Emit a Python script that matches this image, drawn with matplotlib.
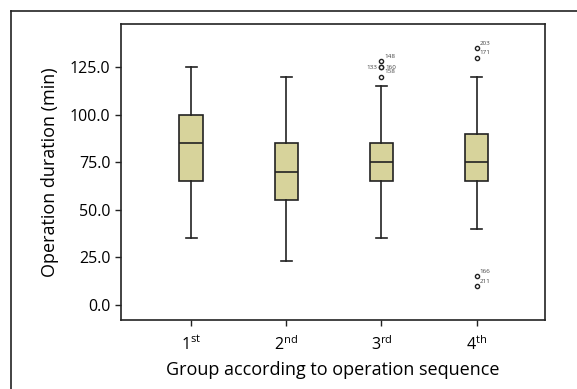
import matplotlib
matplotlib.use("Agg")
import matplotlib.pyplot as plt
from matplotlib.lines import Line2D

plt.rcParams['font.family'] = ['Open Sans', 'DejaVu Sans']
plt.rcParams['mathtext.fontset'] = 'custom'
plt.rcParams['mathtext.rm'] = 'Open Sans'

# box statistics per group (min)
groups = ['1$^{\\mathrm{st}}$', '2$^{\\mathrm{nd}}$', '3$^{\\mathrm{rd}}$', '4$^{\\mathrm{th}}$']
whislo = [35, 23, 35, 40]
q1 = [65, 55, 65, 65]
med = [85, 70, 75, 75]
q3 = [100, 85, 85, 90]
whishi = [125, 120, 115, 120]

# outliers: (group index, value, case label)
out_group = [3, 3, 3, 3, 4, 4, 4, 4]
out_value = [120, 125, 125, 128, 130, 135, 15, 10]
out_label = ['158', '133', '160', '148', '171', '203', '166', '211']

yticks = [0, 25, 50, 75, 100, 125]

box_color = '#d7d39b'
ink = '#222222'

fig = plt.figure(figsize=(5.77, 3.89), dpi=100)
ax = fig.add_axes([121/577, 1 - 320/389, (545 - 121)/577, (320 - 24)/389])

# outer frame: only top and left edges are visible
y_top = 1 - 10.5/389
x_left = 10.5/577
fig.add_artist(Line2D([x_left, 1], [y_top, y_top], transform=fig.transFigure,
                      color=ink, linewidth=1.2))
fig.add_artist(Line2D([x_left, x_left], [0, y_top], transform=fig.transFigure,
                      color=ink, linewidth=1.2))

stats = []
for i in range(len(groups)):
    stats.append(dict(whislo=whislo[i], q1=q1[i], med=med[i], q3=q3[i],
                      whishi=whishi[i], fliers=[]))

ax.bxp(stats, positions=[1, 2, 3, 4], widths=0.25, patch_artist=True,
       showfliers=False,
       boxprops=dict(facecolor=box_color, edgecolor=ink, linewidth=1.2),
       medianprops=dict(color=ink, linewidth=1.2),
       whiskerprops=dict(color=ink, linewidth=1.2),
       capprops=dict(color=ink, linewidth=1.2),
       capwidths=0.12)

ax.scatter(out_group, out_value, s=9, facecolors='white', edgecolors=ink,
           linewidths=1.0, zorder=5)

for g, v, lab in zip(out_group, out_value, out_label):
    if lab == '133':
        ax.annotate(lab, (g, v), xytext=(-3, 0), textcoords='offset points',
                    ha='right', va='center', fontsize=4.5, color='#444444')
    elif lab == '160':
        ax.annotate(lab, (g, v), xytext=(2.5, 0), textcoords='offset points',
                    ha='left', va='center', fontsize=4.5, color='#444444')
    else:
        ax.annotate(lab, (g, v), xytext=(2, 3.5), textcoords='offset points',
                    ha='left', va='center', fontsize=4.5, color='#444444')

ax.set_xlim(0.26, 4.72)
ax.set_ylim(-7.9, 147.6)
ax.set_yticks(yticks)
ax.set_yticklabels([f'{t:.1f}' for t in yticks])
ax.set_xticks([1, 2, 3, 4])
ax.set_xticklabels(groups)
ax.tick_params(axis='both', labelsize=11.5, length=4, width=1, color=ink)
ax.tick_params(axis='x', pad=7)
for s in ax.spines.values():
    s.set_linewidth(1.2)
    s.set_color(ink)

ax.set_ylabel('Operation duration (min)', fontsize=13, labelpad=8)
ax.set_xlabel('Group according to operation sequence', fontsize=13, labelpad=5)

fig.savefig('out.png', dpi=100)
